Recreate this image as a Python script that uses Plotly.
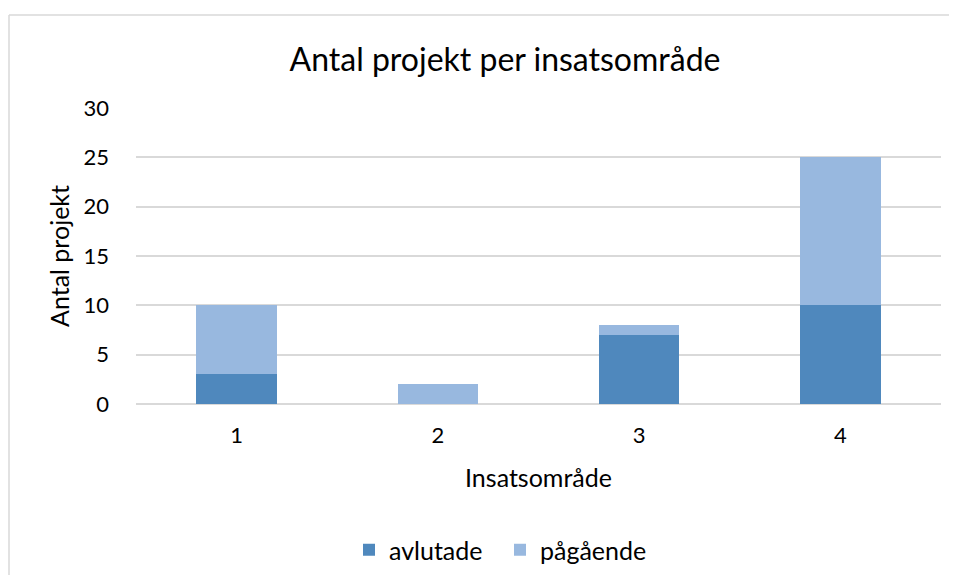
import plotly.graph_objects as go

categories = ["1", "2", "3", "4"]
avlutade = [3, 0, 7, 10]
pagaende = [7, 2, 1, 15]
y_ticks = [0, 5, 10, 15, 20, 25, 30]

# page is rendered with an 8px body margin; compensate
OFF = 8
PW, PH = 957, 583
W, H = PW - 2 * OFF, PH - 2 * OFF
L, T = 136 - OFF, 108 - OFF
R = (OFF + W) - 941
B = (OFF + H) - 404
pw, ph = W - L - R, H - T - B

def px(x):
    return (x - OFF - L) / pw

def py(y):
    return (H - B - (y - OFF)) / ph

FONT = "Lato"

fig = go.Figure()
fig.add_trace(go.Bar(x=categories, y=avlutade, name="avlutade",
                     marker=dict(color="#4F88BD", line=dict(width=0))))
fig.add_trace(go.Bar(x=categories, y=pagaende, name="pågående",
                     marker=dict(color="#98B8DF", line=dict(width=0))))

fig.update_layout(
    width=W, height=H,
    margin=dict(l=L, r=R, t=T, b=B, autoexpand=False),
    barmode="stack", bargap=0.6,
    paper_bgcolor="white", plot_bgcolor="white",
    font=dict(family=FONT, color="#000000", size=22),
    title=dict(text="Antal projekt per insatsområde", x=px(505), xref="paper",
               xanchor="center", y=1 - (60 - OFF) / H, yanchor="middle",
               font=dict(size=32, family=FONT, color="#000000")),
    xaxis=dict(type="category", showgrid=False, showline=False, ticks="",
               tickfont=dict(size=22), ticklabelstandoff=16,
               title=dict(text="Insatsområde", font=dict(size=25), standoff=22)),
    yaxis=dict(range=[0, 30], tickvals=y_ticks, showgrid=True,
               gridcolor="#D9D9D9", gridwidth=1.5, zeroline=True,
               zerolinecolor="#D9D9D9", zerolinewidth=1.5, ticks="",
               tickfont=dict(size=22), ticklabelstandoff=26,
               title=dict(text="Antal projekt", font=dict(size=25), standoff=6)),
    legend=dict(orientation="h", x=px(349), xanchor="left",
                y=py(550), yanchor="middle", font=dict(size=25),
                itemwidth=30, traceorder="normal",
                entrywidth=106, entrywidthmode="pixels"),
    showlegend=True,
)

# chart-area border (top and left edges visible in the reference)
fig.add_shape(type="line", xref="paper", yref="paper",
              x0=px(9), y0=py(15), x1=px(PW + 20), y1=py(15),
              line=dict(color="#D9D9D9", width=1.5), layer="below")
fig.add_shape(type="line", xref="paper", yref="paper",
              x0=px(9), y0=py(PH + 20), x1=px(9), y1=py(15),
              line=dict(color="#D9D9D9", width=1.5), layer="below")

fig.write_html("out.html", config={"displayModeBar": False})
